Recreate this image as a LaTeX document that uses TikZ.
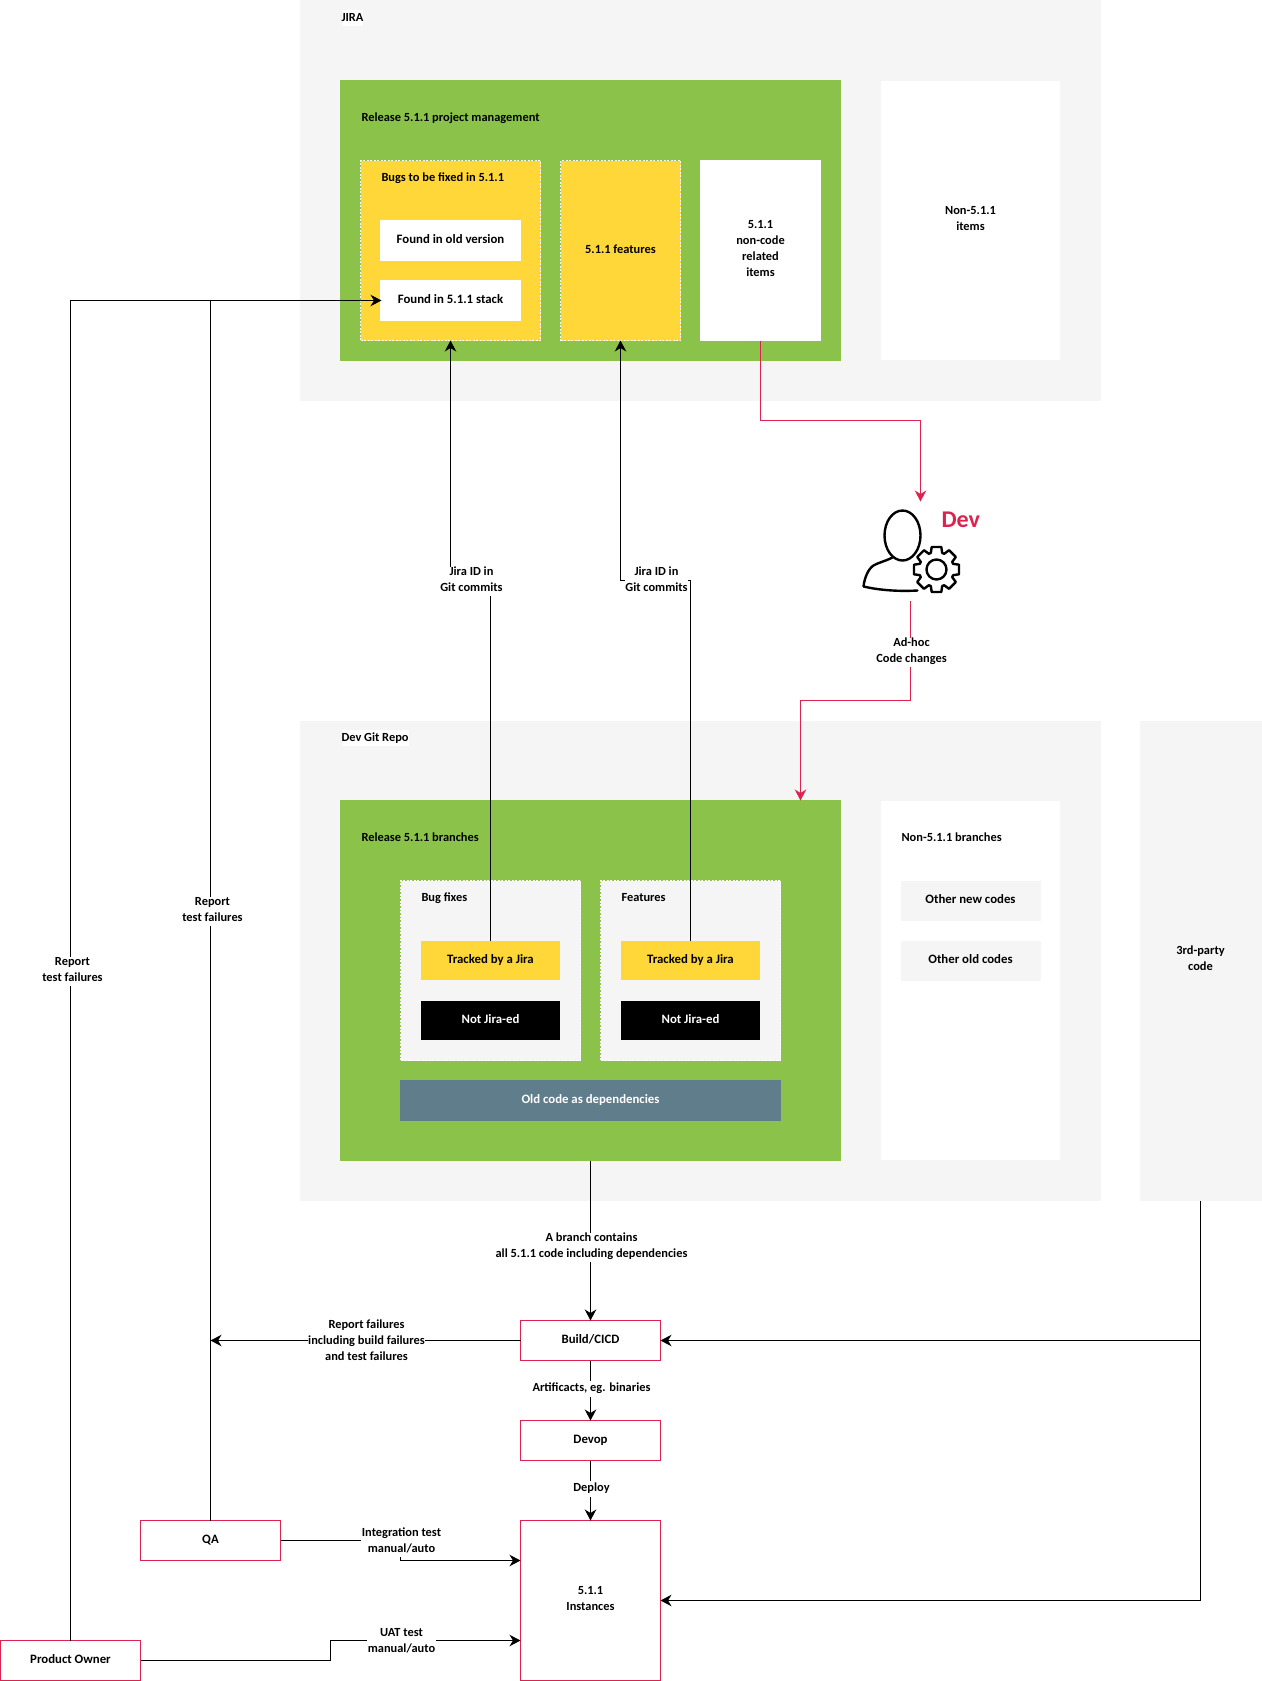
\documentclass[tikz,border=0pt]{standalone}
\usepackage{fontspec}
\setmainfont{Carlito}
\usetikzlibrary{arrows.meta,calc}
\definecolor{bgg}{HTML}{F5F5F5}
\definecolor{grn}{HTML}{8BC34A}
\definecolor{ylw}{HTML}{FFD738}
\definecolor{slate}{HTML}{607D8B}
\definecolor{crim}{HTML}{DC2350}
\tikzset{
  x=1pt,y=-1pt,
  every node/.style={font=\fontsize{12.4}{16}\selectfont\bfseries,inner sep=0pt,outer sep=0pt,align=center,
    execute at begin node=\strut,execute at end node=\strut},
  big/.style={font=\fontsize{12.8}{16}\selectfont\bfseries},
  bgbox/.style={rectangle,fill=bgg,draw=none},
  grnbox/.style={rectangle,fill=grn,draw=grn,line width=1pt},
  whtbox/.style={rectangle,fill=white,draw=white,line width=1pt},
  whtflat/.style={rectangle,fill=white,draw=none},
  greybox/.style={rectangle,fill=bgg,draw=none},
  ylwbox/.style={rectangle,fill=ylw,draw=none},
  dashy/.style={draw=white,dash pattern=on 2pt off 1.5pt,line width=1pt},
  blkbox/.style={rectangle,fill=black,draw=none,text=white},
  slbox/.style={rectangle,fill=slate,draw=none,text=white},
  redbox/.style={rectangle,fill=white,draw=crim,line width=1pt},
  title/.style={anchor=west},
  tagtitle/.style={anchor=west,fill=white,execute at begin node=\rule{0pt}{9pt},execute at end node=\rule[-3pt]{0pt}{3pt}},
  ml/.style={execute at begin node=\rule{0pt}{17.2pt}},
  lab/.style={fill=white,inner xsep=0.5pt,execute at begin node=\rule{0pt}{9pt},execute at end node=\rule[-3pt]{0pt}{3pt}},
  sz/.style 2 args={minimum width=#1pt,minimum height=#2pt},
  conn/.style={line width=1pt,-{Stealth[length=11pt,width=11.5pt,inset=3.5pt]}},
  plainconn/.style={line width=1pt},
  redconn/.style={conn,draw=crim,color=crim},
}
\begin{document}
\begin{tikzpicture}
\useasboundingbox (0,0) rectangle (1261,1681);
\begin{scope}[shift={(0.5pt,-0.5pt)}]
% JIRA
\node[bgbox,sz={801}{401}] (jira) at (700,200) {};
\node[tagtitle] (jiralab) at (341,17.5) {JIRA};
\node[grnbox,sz={500}{280}] (pm) at (590,220) {};
\node[title] (pmlab) at (361,118) {Release 5.1.1 project management};
\node[ylwbox,dashy,sz={180}{180}] (bugs) at (450,250) {};
\node[title] (bugslab) at (381,178) {Bugs to be fixed in 5.1.1};
\node[whtbox,big,sz={140}{40}] (fold) at (450,240) {Found in old version};
\node[whtbox,big,sz={140}{40}] (fstack) at (450,300) {Found in 5.1.1 stack};
\node[ylwbox,dashy,sz={120}{180}] (feat) at (620,250) {5.1.1 features};
\node[whtbox,ml,sz={120}{180}] (noncode) at (760,250) {5.1.1\\non-code\\related\\items};
\node[whtflat,ml,sz={179}{279}] (nonitems) at (970,220) {Non-5.1.1\\items};
% Dev repo
\node[bgbox,sz={801}{480}] (repo) at (700,960) {};
\node[tagtitle] (repolab) at (341,737.5) {Dev Git Repo};
\node[bgbox,ml,sz={122}{480}] (third) at (1200,960) {3rd-party\\code};
\node[grnbox,sz={500}{360}] (rel) at (590,980) {};
\node[title] (rellab) at (361,838) {Release 5.1.1 branches};
\node[whtflat,sz={179}{359}] (nonbr) at (970,980) {};
\node[title] (nonbrlab) at (901,838) {Non-5.1.1 branches};
\node[greybox,big,sz={140}{40}] (onew) at (970,900) {Other new codes};
\node[greybox,big,sz={140}{40}] (oold) at (970,960) {Other old codes};
\node[greybox,dashy,sz={180}{180}] (bf) at (490,970) {};
\node[title] (bflab) at (421,898) {Bug fixes};
\node[greybox,dashy,sz={180}{180}] (fe) at (690,970) {};
\node[title] (felab) at (621,898) {Features};
\node[ylwbox,big,sz={139}{39}] (tr1) at (490,960) {Tracked by a Jira};
\node[ylwbox,big,sz={139}{39}] (tr2) at (690,960) {Tracked by a Jira};
\node[blkbox,big,sz={139}{39}] (nj1) at (490,1020) {Not Jira-ed};
\node[blkbox,big,sz={139}{39}] (nj2) at (690,1020) {Not Jira-ed};
\node[slbox,big,sz={381}{41}] (old) at (590,1100) {Old code as dependencies};
% process boxes
\node[redbox,big,sz={140}{40}] (build) at (590,1340) {Build/CICD};
\node[redbox,big,sz={140}{40}] (devop) at (590,1440) {Devop};
\node[redbox,ml,sz={140}{160}] (inst) at (590,1600) {5.1.1\\Instances};
\node[redbox,big,sz={140}{40}] (qa) at (210,1540) {QA};
\node[redbox,big,sz={140}{40}] (po) at (70,1660) {Product Owner};
% Dev icon
\coordinate (devtop) at (920,501);
\coordinate (devbot) at (910,600);
\begin{scope}[line width=2.4pt,line join=round,line cap=round]
\draw (902,535) ellipse [x radius=18,y radius=25];
\draw (892,557) .. controls (884,561) and (878,562) .. (873,565) .. controls (868,568) and (864,577) .. (863,586) .. controls (880,590) and (900,591) .. (917,590);
\begin{scope}[shift={(936,569)}]
\draw[fill=white] (-12:23pt) \foreach \a in {0,45,...,315}{ -- (\a-12:23pt) -- (\a+12:23pt) -- (\a+19:17.5pt) -- (\a+26:17.5pt)} -- cycle;
\draw (0,0) circle [radius=10];
\end{scope}
\end{scope}
\node[anchor=west,text=crim,font=\fontsize{24}{24}\selectfont\bfseries] (devlab) at (941,522) {Dev};
% connectors
\coordinate (j1) at (450,580);
\coordinate (j2) at (620,580);
\draw[conn] (tr1.north) |- (j1) -- (bugs.south);
\draw[conn] (tr2.north) |- (j2) -- (feat.south);
\coordinate (rep) at (70,300);
\coordinate (repq) at (210,300);
\draw[conn] (po.north) -- (rep) -- ($(fstack.west)+(1,0)$);
\draw[plainconn] (qa.north) -- (repq);
\coordinate (r1) at (760,420);
\draw[redconn] (noncode.south) |- (r1) -| (devtop);
\coordinate (r2) at (910,700);
\draw[redconn] (devbot) -- (r2) -| (800,800);
\draw[conn] (rel.south) -- (build.north);
\draw[conn] (build.south) -- (devop.north);
\draw[conn] (devop.south) -- (inst.north);
\coordinate (fail) at (210,1340);
\draw[conn] (build.west) -- (fail);
\coordinate (tp1) at (1200,1340);
\coordinate (tp2) at (1200,1600);
\draw[conn] (third.south) -- (tp2) -- (inst.east);
\draw[conn] (tp1) -- (build.east);
\coordinate (q1) at (400,1540);
\coordinate (q2) at (400,1560);
\draw[conn] (qa.east) -- (q1) -- (q2) -- (520,1560);
\coordinate (p1) at (330,1660);
\coordinate (p2) at (330,1640);
\draw[conn] (po.east) -- (p1) -- (p2) -- (520,1640);
% labels
\node[lab] (l1) at (471,581) {Jira ID in\\Git commits};
\node[lab] (l2) at (656,581) {Jira ID in\\Git commits};
\node[lab] (l3) at (72,971) {Report\\test failures};
\node[lab] (l4) at (212,911) {Report\\test failures};
\node[lab] (l5) at (911,652) {Ad-hoc\\Code changes};
\node[lab] (l6) at (591,1247) {A branch contains\\all 5.1.1 code including dependencies};
\node[lab] (l7) at (591,1388) {Artificacts, eg. binaries};
\node[lab] (l8) at (591,1488) {Deploy};
\node[lab] (l9) at (366,1342) {Report failures\\including build failures\\and test failures};
\node[lab] (l10) at (401,1542) {Integration test\\manual/auto};
\node[lab] (l11) at (401,1642) {UAT test\\manual/auto};
\end{scope}
\end{tikzpicture}
\end{document}
